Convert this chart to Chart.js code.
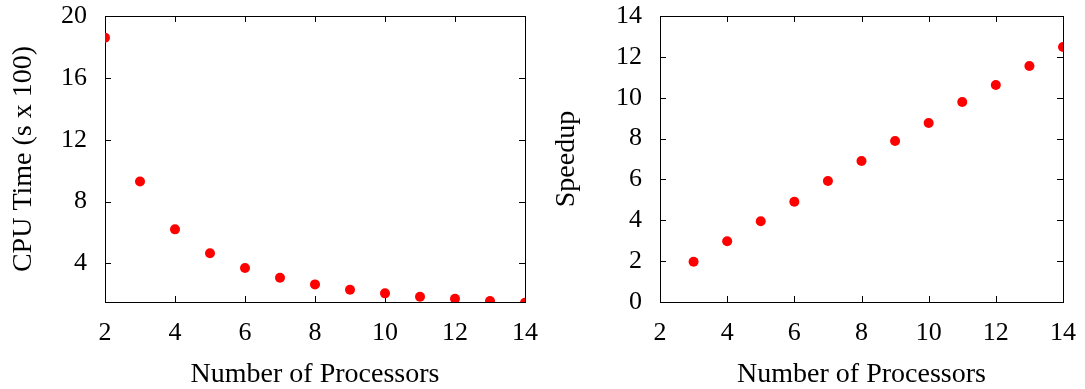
<!DOCTYPE html>
<html>
<head>
<meta charset="utf-8">
<script src="https://cdn.jsdelivr.net/npm/chart.js@4.4.0/dist/chart.umd.min.js"></script>
<style>
  html, body { margin: 0; padding: 0; background: #fff; }
  .wrap { position: absolute; top: 0; height: 389px; }
  #left { left: 0; width: 543px; }
  #right { left: 543px; width: 542px; }
</style>
</head>
<body>
<div class="wrap" id="left"><canvas id="cpuChart"></canvas></div>
<div class="wrap" id="right"><canvas id="speedChart"></canvas></div>
<script>
// processor counts and measurements
const procsCpu = [2, 3, 4, 5, 6, 7, 8, 9, 10, 11, 12, 13, 14];
const cpuTime = [18.6, 9.3, 6.2, 4.65, 3.7, 3.07, 2.64, 2.29, 2.06, 1.84, 1.71, 1.56, 1.45];

const procsSpeed = [3, 4, 5, 6, 7, 8, 9, 10, 11, 12, 13, 14];
const speedup = [1.97, 2.97, 3.95, 4.91, 5.92, 6.9, 7.88, 8.76, 9.79, 10.62, 11.55, 12.48];

const xTicks = [2, 4, 6, 8, 10, 12, 14];
const cpuTicks = [4, 8, 12, 16, 20];
const speedTicks = [0, 2, 4, 6, 8, 10, 12, 14];

const fontFamily = "'Liberation Serif', 'Times New Roman', serif";

// gnuplot-like box with inward ticks on every side
const boxPlugin = {
  id: 'box',
  beforeDatasetsDraw(chart) {
    const { ctx, chartArea: a, scales } = chart;
    const len = 6;
    ctx.save();
    ctx.strokeStyle = '#000';
    ctx.lineWidth = 1;
    ctx.beginPath();
    scales.x.ticks.forEach(t => {
      const px = Math.round(scales.x.getPixelForValue(t.value)) + 0.5;
      ctx.moveTo(px, a.bottom); ctx.lineTo(px, a.bottom - len);
      ctx.moveTo(px, a.top); ctx.lineTo(px, a.top + len);
    });
    scales.y.ticks.forEach(t => {
      const py = Math.round(scales.y.getPixelForValue(t.value)) + 0.5;
      ctx.moveTo(a.left, py); ctx.lineTo(a.left + len, py);
      ctx.moveTo(a.right, py); ctx.lineTo(a.right - len, py);
    });
    ctx.stroke();
    ctx.strokeRect(Math.round(a.left) + 0.5, Math.round(a.top) + 0.5,
      Math.round(a.right - a.left), Math.round(a.bottom - a.top));
    ctx.restore();
  }
};

// fixed axis size, no extra room for overhanging labels
function fixSize(prop, size) {
  return s => {
    s[prop] = size;
    s.paddingTop = 0;
    s.paddingBottom = 0;
    s.paddingLeft = 0;
    s.paddingRight = 0;
  };
}

function makeChart(id, xs, ys, yMin, yMax, yTicks, yTitle, yWidth, rightPad) {
  const ctx = document.getElementById(id).getContext('2d');
  return new Chart(ctx, {
    type: 'scatter',
    data: {
      datasets: [{
        data: xs.map((x, i) => ({ x: x, y: ys[i] })),
        backgroundColor: '#ff0000',
        borderWidth: 0,
        pointRadius: 5,
        pointHoverRadius: 5
      }]
    },
    options: {
      responsive: true,
      maintainAspectRatio: false,
      animation: false,
      layout: { padding: { top: 16, right: rightPad, left: 0, bottom: 0 } },
      plugins: { legend: { display: false }, tooltip: { enabled: false } },
      scales: {
        x: {
          type: 'linear',
          min: 2,
          max: 14,
          afterBuildTicks: s => { s.ticks = xTicks.map(v => ({ value: v })); },
          afterFit: fixSize('height', 87),
          grid: { display: false, drawTicks: false },
          border: { display: false },
          ticks: { color: '#000', padding: 16, maxRotation: 0, font: { family: fontFamily, size: 26 } },
          title: {
            display: true,
            text: 'Number of Processors',
            color: '#000',
            padding: 0,
            font: { family: fontFamily, size: 28, lineHeight: 1 }
          }
        },
        y: {
          type: 'linear',
          min: yMin,
          max: yMax,
          afterBuildTicks: s => { s.ticks = yTicks.map(v => ({ value: v })); },
          afterFit: fixSize('width', yWidth),
          grid: { display: false, drawTicks: false },
          border: { display: false },
          ticks: { color: '#000', padding: 18, font: { family: fontFamily, size: 26 } },
          title: {
            display: true,
            text: yTitle,
            color: '#000',
            padding: { top: 10, bottom: 0 },
            font: { family: fontFamily, size: 28, lineHeight: 1 }
          }
        }
      }
    },
    plugins: [boxPlugin]
  });
}

makeChart('cpuChart', procsCpu, cpuTime, 1.5, 20, cpuTicks, 'CPU Time (s x 100)', 105, 18);
makeChart('speedChart', procsSpeed, speedup, 0, 14, speedTicks, 'Speedup', 117, 22);
</script>
</body>
</html>
